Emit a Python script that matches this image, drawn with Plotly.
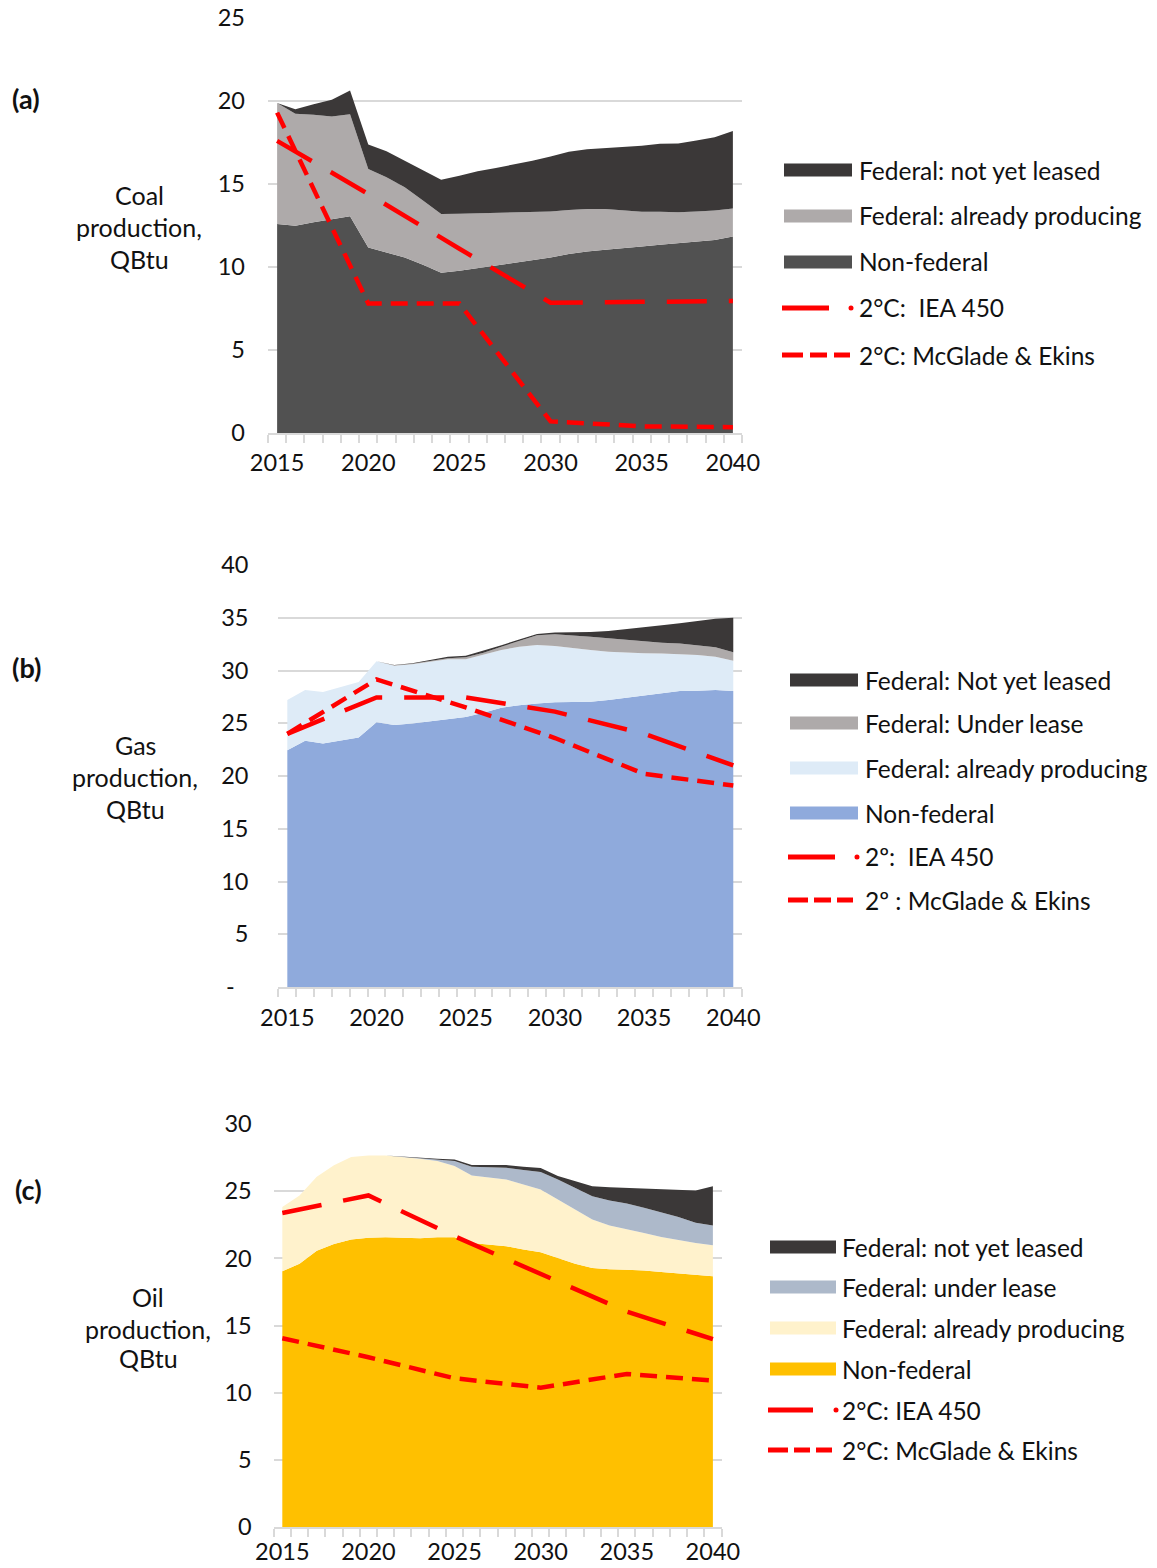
import plotly.graph_objects as go

# ---------------------------------------------------------------- data
years = list(range(2015, 2041))
scenario_years = [2015, 2020, 2025, 2030, 2035, 2040]

# Coal (QBtu)
coal_nonfederal = [12.59, 12.49, 12.69, 12.85, 13.05, 11.18, 10.88, 10.57, 10.13, 9.65, 9.77, 9.93, 10.11,
                   10.27, 10.43, 10.57, 10.78, 10.94, 11.04, 11.12, 11.24, 11.34, 11.42, 11.52, 11.62, 11.84]
coal_fed_producing = [7.29, 6.74, 6.48, 6.22, 6.15, 4.72, 4.52, 4.23, 3.87, 3.54, 3.44, 3.30, 3.14,
                      3.03, 2.90, 2.78, 2.65, 2.56, 2.46, 2.28, 2.09, 1.99, 1.88, 1.83, 1.78, 1.69]
coal_fed_not_leased = [0.0, 0.27, 0.63, 1.01, 1.44, 1.48, 1.58, 1.60, 1.85, 2.06, 2.29, 2.54, 2.72,
                       2.87, 3.07, 3.31, 3.51, 3.60, 3.66, 3.82, 3.97, 4.09, 4.14, 4.27, 4.42, 4.66]
coal_iea450 = [17.6, 14.4, 11.1, 7.85, 7.9, 7.95]
coal_mcglade = [19.3, 7.8, 7.8, 0.7, 0.4, 0.35]

# Gas (QBtu)
gas_nonfederal = [22.45, 23.34, 23.09, 23.40, 23.65, 25.10, 24.83, 24.98, 25.17, 25.43, 25.60, 26.00, 26.47,
                  26.70, 26.88, 26.98, 27.00, 27.04, 27.20, 27.42, 27.60, 27.86, 28.05, 28.08, 28.15, 28.05]
gas_fed_producing = [4.75, 4.81, 4.87, 5.06, 5.25, 5.77, 5.63, 5.62, 5.63, 5.63, 5.46, 5.47, 5.47,
                     5.56, 5.54, 5.34, 5.10, 4.90, 4.58, 4.27, 4.03, 3.74, 3.51, 3.39, 3.16, 2.88]
gas_fed_under_lease = [0.0, 0.0, 0.0, 0.0, 0.0, 0.0, 0.03, 0.05, 0.10, 0.09, 0.19, 0.22, 0.32,
                       0.54, 0.91, 1.11, 1.23, 1.26, 1.27, 1.21, 1.10, 1.04, 1.01, 0.95, 0.89, 0.79]
gas_fed_not_leased = [0.0, 0.0, 0.0, 0.0, 0.0, 0.0, 0.02, 0.03, 0.06, 0.15, 0.15, 0.19, 0.14,
                      0.15, 0.13, 0.17, 0.27, 0.45, 0.69, 1.00, 1.37, 1.64, 1.90, 2.30, 2.70, 3.28]
gas_iea450 = [24.0, 27.45, 27.45, 26.1, 24.0, 21.0]
gas_mcglade = [24.0, 29.16, 26.5, 23.6, 20.2, 19.1]

# Oil (QBtu)
oil_nonfederal = [19.03, 19.60, 20.57, 21.07, 21.40, 21.54, 21.57, 21.54, 21.50, 21.57, 21.57, 21.14, 21.02,
                  20.90, 20.65, 20.45, 20.02, 19.60, 19.28, 19.18, 19.15, 19.10, 18.98, 18.86, 18.78, 18.66]
oil_fed_producing = [4.80, 5.08, 5.50, 5.85, 6.14, 6.12, 6.09, 6.00, 5.91, 5.67, 5.30, 5.03, 4.98,
                     4.97, 4.85, 4.67, 4.36, 4.03, 3.61, 3.26, 3.04, 2.79, 2.61, 2.48, 2.36, 2.31]
oil_fed_under_lease = [0.0, 0.0, 0.0, 0.0, 0.0, 0.0, 0.0, 0.02, 0.05, 0.12, 0.37, 0.65, 0.79,
                       0.87, 1.07, 1.30, 1.49, 1.62, 1.74, 1.86, 1.89, 1.87, 1.84, 1.74, 1.50, 1.47]
oil_fed_not_leased = [0.0, 0.0, 0.0, 0.0, 0.0, 0.0, 0.0, 0.0, 0.0, 0.05, 0.12, 0.12, 0.15,
                      0.20, 0.25, 0.30, 0.25, 0.50, 0.74, 1.00, 1.17, 1.41, 1.67, 1.97, 2.41, 2.93]
oil_iea450 = [23.38, 24.68, 21.64, 18.8, 16.04, 13.98]
oil_mcglade = [14.05, 12.64, 11.07, 10.37, 11.39, 10.9]

# Legend labels
coal_labels = ["Federal: not yet leased", "Federal: already producing", "Non-federal",
               "2°C:  IEA 450", "2°C: McGlade & Ekins"]
gas_labels = ["Federal: Not yet leased", "Federal: Under lease", "Federal: already producing",
              "Non-federal", "2º:  IEA 450", "2º : McGlade & Ekins"]
oil_labels = ["Federal: not yet leased", "Federal: under lease", "Federal: already producing",
              "Non-federal", "2°C: IEA 450", "2°C: McGlade & Ekins"]

# ---------------------------------------------------------------- style
W, H = 1157, 1568
FONT = "Lato"
TXT = "#111111"
GRID = "#d9d9d9"
RED = "#ff0000"
C_NOTLEASED = "#3b3838"
C_GREY = "#aeaaaa"
C_COAL_NF = "#515151"
C_GAS_NF = "#8faadc"
C_GAS_PROD = "#deebf7"
C_OIL_NF = "#ffc000"
C_OIL_PROD = "#fff2cc"
C_OIL_LEASE = "#adb9ca"

TICK_SIZE = 23.5
LEG_SIZE = 24.5
TITLE_SIZE = 25


def px(x):
    return x / W


def py(y):
    return 1 - y / H


fig = go.Figure()


def add_area(xa, ya, group, values, color, name):
    fig.add_trace(go.Scatter(x=years, y=values, name=name, stackgroup=group,
                             mode="lines", line=dict(width=0), fillcolor=color,
                             xaxis=xa, yaxis=ya, showlegend=False, hoverinfo="x+y+name"))


def add_line(xa, ya, values, dash, name):
    fig.add_trace(go.Scatter(x=scenario_years, y=values, name=name, mode="lines",
                             line=dict(color=RED, width=4.5, dash=dash),
                             xaxis=xa, yaxis=ya, showlegend=False))


LONG = "40px,22px"
SHORT = "17px,9px"

# (a) coal
add_area("x", "y", "coal", coal_nonfederal, C_COAL_NF, coal_labels[2])
add_area("x", "y", "coal", coal_fed_producing, C_GREY, coal_labels[1])
add_area("x", "y", "coal", coal_fed_not_leased, C_NOTLEASED, coal_labels[0])
add_line("x", "y", coal_iea450, LONG, coal_labels[3])
add_line("x", "y", coal_mcglade, SHORT, coal_labels[4])

# (b) gas
add_area("x2", "y2", "gas", gas_nonfederal, C_GAS_NF, gas_labels[3])
add_area("x2", "y2", "gas", gas_fed_producing, C_GAS_PROD, gas_labels[2])
add_area("x2", "y2", "gas", gas_fed_under_lease, C_GREY, gas_labels[1])
add_area("x2", "y2", "gas", gas_fed_not_leased, C_NOTLEASED, gas_labels[0])
add_line("x2", "y2", gas_iea450, LONG, gas_labels[4])
add_line("x2", "y2", gas_mcglade, SHORT, gas_labels[5])

# (c) oil
add_area("x3", "y3", "oil", oil_nonfederal, C_OIL_NF, oil_labels[3])
add_area("x3", "y3", "oil", oil_fed_producing, C_OIL_PROD, oil_labels[2])
add_area("x3", "y3", "oil", oil_fed_under_lease, C_OIL_LEASE, oil_labels[1])
add_area("x3", "y3", "oil", oil_fed_not_leased, C_NOTLEASED, oil_labels[0])
add_line("x3", "y3", oil_iea450, LONG, oil_labels[4])
add_line("x3", "y3", oil_mcglade, SHORT, oil_labels[5])

tick_font = dict(family=FONT, size=TICK_SIZE, color=TXT)


def xaxis(left, right, anchor, standoff=8):
    return dict(domain=[px(left), px(right)], anchor=anchor, range=[2014.5, 2040.5],
                tickmode="array", tickvals=[2015, 2020, 2025, 2030, 2035, 2040],
                ticks="", showgrid=False, zeroline=False, showline=True, automargin=False,
                linecolor=GRID, linewidth=1.5, tickfont=tick_font, ticklabelstandoff=standoff,
                minor=dict(ticks="outside", tick0=2014.5, dtick=1, ticklen=8,
                           tickcolor=GRID, tickwidth=1.5, showgrid=False),
                fixedrange=True)


def yaxis(top, bottom, anchor, ymax, ticktext=None, standoff=20):
    vals = list(range(0, ymax + 1, 5))
    d = dict(domain=[py(bottom), py(top)], anchor=anchor, range=[0, ymax],
             tickmode="array", tickvals=vals, ticks="", showgrid=True, gridcolor=GRID,
             gridwidth=1.5, zeroline=False, showline=False, tickfont=tick_font, automargin=False,
             ticklabelstandoff=standoff, fixedrange=True)
    if ticktext is not None:
        d["ticktext"] = ticktext
    return d


gas_ticks = ["-\u2007"] + [str(v) for v in range(5, 41, 5)]

fig.update_layout(
    width=W, height=H, autosize=False, margin=dict(l=0, r=0, t=0, b=0, pad=0),
    paper_bgcolor="white", plot_bgcolor="white", showlegend=False,
    font=dict(family=FONT, color=TXT),
    xaxis=xaxis(268, 742, "y", standoff=8),
    yaxis=yaxis(18, 433, "x", 25, standoff=22),
    xaxis2=xaxis(278.4, 742.2, "y2", standoff=9),
    yaxis2=yaxis(565, 987, "x2", 40, ticktext=gas_ticks, standoff=29),
    xaxis3=xaxis(273.7, 721.5, "y3", standoff=3),
    yaxis3=yaxis(1124, 1527, "x3", 30, standoff=21),
)

annotations = []
shapes = []


def text(x, y, s, size=22, anchor="center", bold=False):
    annotations.append(dict(x=px(x), y=py(y), xref="paper", yref="paper", text=f"<b>{s}</b>" if bold else s,
                            showarrow=False, xanchor=anchor, yanchor="middle",
                            font=dict(family=FONT, size=size, color=TXT)))


# panel letters and axis titles
for letter, (lx, ly) in zip(["(a)", "(b)", "(c)"], [(26, 98), (26, 668), (28, 1189)]):
    text(lx, ly, letter, size=27, bold=True)

for title_lines, cx, ys in [
    (["Coal", "production,", "QBtu"], 139, [195, 227, 259]),
    (["Gas", "production,", "QBtu"], 135, [745, 777, 809]),
    (["Oil", "production,", "QBtu"], 148, [1297, 1329, 1358]),
]:
    for line, yy in zip(title_lines, ys):
        text(cx, yy, line, size=TITLE_SIZE)


def legend(labels, colors, rows, x0, x1, tx, line_x):
    """Draw swatches and labels; colors for area items, then two red line items."""
    n_area = len(colors)
    for i, lab in enumerate(labels):
        yc = rows[i]
        if i < n_area:
            shapes.append(dict(type="rect", xref="paper", yref="paper",
                               x0=px(x0), x1=px(x1), y0=py(yc + 6.5), y1=py(yc - 6.5),
                               fillcolor=colors[i], line=dict(width=0)))
        elif i == n_area:
            lx0, lx1, dot = line_x[0]
            shapes.append(dict(type="line", xref="paper", yref="paper",
                               x0=px(lx0), x1=px(lx1), y0=py(yc), y1=py(yc),
                               line=dict(color=RED, width=5)))
            shapes.append(dict(type="circle", xref="paper", yref="paper",
                               x0=px(dot - 2.5), x1=px(dot + 2.5), y0=py(yc + 2.5), y1=py(yc - 2.5),
                               fillcolor=RED, line=dict(width=0)))
        else:
            for a, b in line_x[1]:
                shapes.append(dict(type="line", xref="paper", yref="paper",
                                   x0=px(a), x1=px(b), y0=py(yc), y1=py(yc),
                                   line=dict(color=RED, width=5)))
        text(tx, yc, lab, size=LEG_SIZE, anchor="left")


legend(coal_labels, [C_NOTLEASED, C_GREY, C_COAL_NF], [170, 216, 262, 308, 355],
       784, 852, 857, [(782, 829, 851), [(782, 803), (810, 827), (834, 850)]])
legend(gas_labels, [C_NOTLEASED, C_GREY, C_GAS_PROD, C_GAS_NF], [680, 723, 768, 813, 857, 900],
       790, 858, 863, [(788, 835, 857), [(788, 808), (814, 831), (837, 853)]])
legend(oil_labels, [C_NOTLEASED, C_OIL_LEASE, C_OIL_PROD, C_OIL_NF], [1247, 1287, 1328, 1369, 1410, 1450],
       770, 836, 840, [(768, 813, 836), [(768, 788), (794, 810), (816, 832)]])

fig.update_layout(annotations=annotations, shapes=shapes)

fig.write_html("out.html", config={"displayModeBar": False},
               post_script="document.body.style.margin='0';document.body.style.overflow='hidden';")
